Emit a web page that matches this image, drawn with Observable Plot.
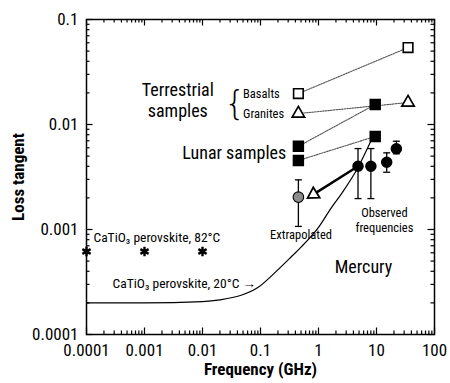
<!DOCTYPE html>
<html><head><meta charset="utf-8">
<script src="https://cdn.jsdelivr.net/npm/d3@7"></script>
<script src="https://cdn.jsdelivr.net/npm/@observablehq/plot@0.6"></script>
<style>
body{margin:0;background:#fff}
#chart svg{font-family:"Liberation Sans Narrow","Arial Narrow","Roboto Condensed",sans-serif}
</style>
</head><body><div id="chart"></div>
<script>
// ---- data ----
const xTicks = [0.0001, 0.001, 0.01, 0.1, 1, 10, 100];
const xTickLabels = ["0.0001", "0.001", "0.01", "0.1", "1", "10", "100"];
const yTicks = [0.0001, 0.001, 0.01, 0.1];
const yTickLabels = ["0.0001", "0.001", "0.01", "0.1"];

const basaltsFreq = [0.45, 35];
const basaltsLoss = [0.0197, 0.054];
const granitesFreq = [0.45, 35];
const granitesLoss = [0.0127, 0.0162];
const lunarAFreq = [0.45, 9.5];
const lunarALoss = [0.0062, 0.0155];
const lunarBFreq = [0.45, 9.5];
const lunarBLoss = [0.00454, 0.0077];

const mercuryFreq = [4.8, 8, 15, 22];
const mercuryLoss = [0.0040, 0.0040, 0.00437, 0.00588];
const mercuryLow = [0.00197, 0.00197, 0.00351, 0.00526];
const mercuryHigh = [0.0059, 0.0059, 0.00537, 0.00693];

const extrapFreq = [0.45];
const extrapLoss = [0.00203];
const extrapLow = [0.00107];
const extrapHigh = [0.00297];

const arrowFreq = [4.8, 0.82];
const arrowLoss = [0.0040, 0.00216];

const perov82Freq = [0.0001, 0.001, 0.01];
const perov82Loss = [0.000617, 0.000617, 0.000617];

const perov20Freq = [0.0001, 0.001, 0.01, 0.02, 0.045, 0.09, 0.17, 0.34, 0.5, 1.0, 1.65, 2.5, 4.8, 8.8];
const perov20Loss = [0.0002, 0.0002, 0.000206, 0.000214, 0.000235, 0.00028, 0.00038, 0.00055, 0.00068, 0.00105, 0.0016, 0.0022, 0.0039, 0.0078];

// ---- tables ----
const pts = (fs, vs) => fs.map((f, i) => ({f, v: vs[i]}));
const basalts = pts(basaltsFreq, basaltsLoss);
const granites = pts(granitesFreq, granitesLoss);
const lunarA = pts(lunarAFreq, lunarALoss);
const lunarB = pts(lunarBFreq, lunarBLoss);
const lunar = lunarA.concat(lunarB);
const mercury = mercuryFreq.map((f, i) => ({f, v: mercuryLoss[i], lo: mercuryLow[i], hi: mercuryHigh[i]}));
const extrap = extrapFreq.map((f, i) => ({f, v: extrapLoss[i], lo: extrapLow[i], hi: extrapHigh[i]}));
const arrow = pts(arrowFreq, arrowLoss);
const perov82 = pts(perov82Freq, perov82Loss);
const perov20 = pts(perov20Freq, perov20Loss);

const minorX = [];
for (let e = -4; e < 2; e++) for (let m = 2; m <= 9; m++) minorX.push(m * Math.pow(10, e));
const minorY = [];
for (let e = -4; e < -1; e++) for (let m = 2; m <= 9; m++) minorY.push(m * Math.pow(10, e));

const capSymbol = {draw(ctx, size) { const w = Math.sqrt(size / Math.PI); ctx.moveTo(-w, 0); ctx.lineTo(w, 0); }};

const W = 450, H = 383, mL = 86, mR = 16, mT = 19, mB = 49;
const pw = W - mL - mR, ph = H - mT - mB;
const xDom = [0.0001, 100], yDom = [0.0001, 0.1];
const tickStyle = {stroke: "#000", strokeWidth: 1.2};
const dash = {stroke: "#555", strokeWidth: 1.1, strokeDasharray: "1.6,1.1"};
const xLab = d => xTickLabels[xTicks.indexOf(d)];
const yLab = d => yTickLabels[yTicks.indexOf(d)];

const chart = Plot.plot({
  width: W, height: H,
  marginLeft: mL, marginRight: mR, marginTop: mT, marginBottom: mB,
  x: {type: "log", domain: xDom, axis: null},
  y: {type: "log", domain: yDom, axis: null},
  style: {background: "#fff", color: "#000"},
  marks: [
    Plot.frame({stroke: "#000", strokeWidth: 1.5}),
    // inward ticks on all four sides
    Plot.tickX(xTicks, {x: d => d, insetTop: ph - 6.5, ...tickStyle}),
    Plot.tickX(xTicks, {x: d => d, insetBottom: ph - 6.5, ...tickStyle}),
    Plot.tickX(minorX, {x: d => d, insetTop: ph - 3.5, ...tickStyle}),
    Plot.tickX(minorX, {x: d => d, insetBottom: ph - 3.5, ...tickStyle}),
    Plot.tickY(yTicks, {y: d => d, insetRight: pw - 6.5, ...tickStyle}),
    Plot.tickY(yTicks, {y: d => d, insetLeft: pw - 6.5, ...tickStyle}),
    Plot.tickY(minorY, {y: d => d, insetRight: pw - 3.5, ...tickStyle}),
    Plot.tickY(minorY, {y: d => d, insetLeft: pw - 3.5, ...tickStyle}),
    // tick labels
    Plot.axisX({ticks: xTicks, tickSize: 0, tickPadding: 9, fontSize: 17, tickFormat: xLab, label: null}),
    Plot.axisY({ticks: yTicks, tickSize: 0, tickPadding: 8, fontSize: 17, tickFormat: yLab, label: null}),
    // axis titles
    Plot.text(["Frequency (GHz)"], {frameAnchor: "bottom", dy: 40, fontSize: 17, fontWeight: "bold"}),
    Plot.text(["Loss tangent"], {frameAnchor: "left", textAnchor: "middle", dx: -68, rotate: -90, fontSize: 17, fontWeight: "bold"}),
    // perovskite curve
    Plot.line(perov20, {x: "f", y: "v", curve: "monotone-x", stroke: "#000", strokeWidth: 1.2}),
    // connecting lines
    Plot.line(basalts, {x: "f", y: "v", ...dash}),
    Plot.line(granites, {x: "f", y: "v", ...dash}),
    Plot.line(lunarA, {x: "f", y: "v", ...dash}),
    Plot.line(lunarB, {x: "f", y: "v", ...dash}),
    // error bars
    Plot.ruleX(mercury, {x: "f", y1: "lo", y2: "hi", strokeWidth: 1.3}),
    Plot.dot(mercury, {x: "f", y: "lo", symbol: capSymbol, r: 3.5, stroke: "#000", strokeWidth: 1.3}),
    Plot.dot(mercury, {x: "f", y: "hi", symbol: capSymbol, r: 3.5, stroke: "#000", strokeWidth: 1.3}),
    Plot.ruleX(extrap, {x: "f", y1: "lo", y2: "hi", strokeWidth: 1.3}),
    Plot.dot(extrap, {x: "f", y: "lo", symbol: capSymbol, r: 3.5, stroke: "#000", strokeWidth: 1.3}),
    Plot.dot(extrap, {x: "f", y: "hi", symbol: capSymbol, r: 3.5, stroke: "#000", strokeWidth: 1.3}),
    // arrow
    Plot.line(arrow, {x: "f", y: "v", stroke: "#000", strokeWidth: 2.4}),
    Plot.dot(arrow.slice(1), {x: "f", y: "v", symbol: "triangle", r: 4.5, rotate: 238, fill: "#fff", stroke: "#000", strokeWidth: 1.8}),
    // markers
    Plot.dot(basalts, {x: "f", y: "v", symbol: "square", r: 5.4, fill: "#fff", stroke: "#000", strokeWidth: 1.6}),
    Plot.dot(granites, {x: "f", y: "v", symbol: "triangle", r: 4.6, fill: "#fff", stroke: "#000", strokeWidth: 1.7}),
    Plot.dot(lunar, {x: "f", y: "v", symbol: "square", r: 5.6, fill: "#000", stroke: "#000"}),
    Plot.dot(mercury, {x: "f", y: "v", r: 5, fill: "#000", stroke: "#000"}),
    Plot.dot(extrap, {x: "f", y: "v", r: 5.3, fill: "#8c8c8c", stroke: "#000", strokeWidth: 1.1}),
    Plot.dot(perov82, {x: "f", y: "v", symbol: "asterisk", r: 4.5, stroke: "#000", strokeWidth: 2.4}),
    // annotations
    Plot.text(["Terrestrial"], {x: 0.00375, y: 0.0211, fontSize: 18}),
    Plot.text(["samples"], {x: 0.00375, y: 0.0133, fontSize: 18}),
    Plot.text(["{"], {x: 0.036, y: 0.0158, fontSize: 34, fontWeight: 100, fontFamily: "DejaVu Sans"}),
    Plot.text(["Basalts"], {x: 0.05, y: 0.0197, textAnchor: "start", fontSize: 12.5}),
    Plot.text(["Granites"], {x: 0.05, y: 0.0127, textAnchor: "start", fontSize: 12.5}),
    Plot.text(["Lunar samples"], {x: 0.277, y: 0.0053, textAnchor: "end", fontSize: 18}),
    Plot.text(["CaTiO₃ perovskite, 82°C"], {x: 0.000132, y: 0.00084, textAnchor: "start", fontSize: 13.5}),
    Plot.text(["CaTiO₃ perovskite, 20°C →"], {x: 0.000282, y: 0.000306, textAnchor: "start", fontSize: 13.5}),
    Plot.text(["Extrapolated"], {x: 0.5, y: 0.000877, fontSize: 12.5}),
    Plot.text(["Observed"], {x: 13.7, y: 0.00145, fontSize: 12.5}),
    Plot.text(["frequencies"], {x: 13.7, y: 0.00104, fontSize: 12.5}),
    Plot.text(["Mercury"], {x: 5.96, y: 0.000435, fontSize: 18})
  ]
});
document.getElementById("chart").appendChild(chart);
</script>
</body></html>
